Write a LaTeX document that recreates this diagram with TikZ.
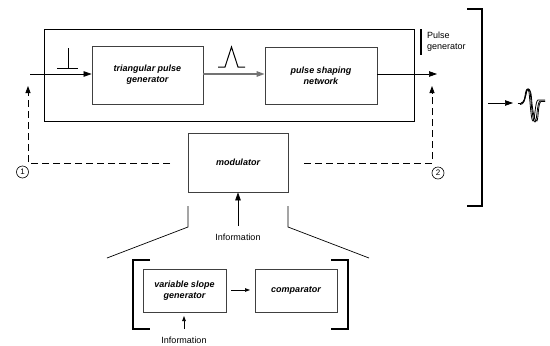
\documentclass[tikz,border=0pt]{standalone}
\usepackage{fontspec}
\setmainfont{Liberation Sans}
\usetikzlibrary{arrows.meta}
\begin{document}
\begin{tikzpicture}[x=1pt,y=-1pt,
  box/.style={draw=black!75, line width=0.8pt, inner sep=1pt, align=center,
    font=\fontsize{9}{11}\selectfont\bfseries\itshape},
  outerbox/.style={draw=black, line width=0.8pt},
  lbl/.style={inner sep=0pt, font=\fontsize{9}{11}\selectfont},
  arr/.style={line width=0.7pt, -{Triangle[length=8pt,width=5.5pt]}},
  sarr/.style={line width=0.7pt, -{Triangle[length=5pt,width=3.5pt]}},
  fb/.style={line width=0.8pt, dash pattern=on 7pt off 4pt, -{Triangle[length=7pt,width=5pt]}},
  fbl/.style={line width=0.8pt, dash pattern=on 7pt off 4pt},
  brk/.style={line width=1.3pt},
  num/.style={circle, draw, line width=0.6pt, inner sep=0pt, minimum size=12pt,
    font=\fontsize{8}{8}\selectfont},
  thin/.style={line width=0.7pt}]
\useasboundingbox (0,0) rectangle (550,346);

% outer pulse generator box
\node[outerbox, minimum width=370pt, minimum height=92pt, inner sep=0pt] (pg) at (229,75) {};
\node[box, minimum width=111pt, minimum height=58pt] (tpg) at (147.5,75) {triangular pulse\\generator};
\node[box, minimum width=112pt, minimum height=57pt] (psn) at (321,75.5) {pulse shaping\\network};

\coordinate (in) at (30,74);
\coordinate (out) at (437,74);
\draw[arr] (in) -- (tpg.west |- in);
\draw[arr, draw=black!55, line width=1.3pt] (tpg.east |- in) -- (psn.west |- in);
\draw[arr] (psn.east |- out) -- (out);

% step symbol and triangle symbol
\draw[line width=1pt] (57,68) -- (78,68) (68,68) -- (68,48);
\draw[line width=1pt] (218,67) -- (225,67) -- (231.5,47) -- (238,67) -- (245,67);

% pulse generator label
\draw[line width=1.2pt] (421,29) -- (421,55);
\node[lbl, anchor=west, align=left] (pglbl) at (427,42) {Pulse\\generator};

% big right bracket
\coordinate (b1) at (467,9);
\coordinate (b2) at (467,206);
\draw[brk] (b1) -| (482,206) -- (b2);

% output arrow and waveform
\coordinate (o1) at (488,103);
\coordinate (o2) at (513,103);
\draw[arr] (o1) -- (o2);
\begin{scope}[line width=0.8pt, line join=round]
\draw (518,103.5) .. controls (523,104) and (524,102) .. (525,96) .. controls (526,88) and (528,87) .. (529,92) .. controls (530,100) and (531,121) .. (533,121) .. controls (535,121) and (535,101) .. (538,100) -- (545,100);
\draw (520,104.5) .. controls (524,104.5) and (525,100) .. (526,93) .. controls (527,88) and (530,88) .. (530.5,95) .. controls (531.5,108) and (533,122) .. (535,122) .. controls (537,122) and (537,102) .. (540,101) -- (545,101);
\draw (521,103) .. controls (524,103) and (526,96) .. (527,90) .. controls (528,87) and (531,89) .. (531.5,98) .. controls (532.5,112) and (535,123) .. (537,121) .. controls (538.5,118) and (538,103) .. (541,101.5) -- (545,101.5);
\end{scope}

% modulator
\node[box, minimum width=100pt, minimum height=59pt] (mod) at (238,162.5) {modulator};

% dashed feedback lines
\coordinate (d1s) at (170,163);
\coordinate (d1c) at (28,163);
\coordinate (d1t) at (28,86);
\draw[fb] (d1s) -- (d1c) -- (d1t);
\node[num] (c1) at (22.5,172) {1};
\coordinate (d2s) at (304,163);
\coordinate (d2c) at (432,163);
\coordinate (d2t) at (432,86);
\draw[fb] (d2s) -- (d2c) -- (d2t);
\node[num] (c2) at (438,173) {2};

% information into modulator
\coordinate (i1) at (238,226);
\draw[arr] (i1) -- (mod.south);
\node[lbl] (info1) at (238,237.5) {Information};

% zoom lines
\draw[thin] (188,206) -- (188,227) -- (107,258);
\draw[thin] (288,206) -- (288,227) -- (369,258);

% lower detail
\draw[brk] (150,260) -| (133,329) -- (150,329);
\draw[brk] (331,260) -| (348,329) -- (331,329);
\node[box, minimum width=83pt, minimum height=43pt] (vsg) at (184.5,290.5) {variable slope\\generator};
\node[box, minimum width=82pt, minimum height=43pt] (cmp) at (296,290.5) {comparator};
\coordinate (a1) at (231,290);
\coordinate (a2) at (250,290);
\draw[sarr] (a1) -- (a2);
\coordinate (i2) at (184,329);
\coordinate (i2t) at (184,316);
\draw[sarr] (i2) -- (i2t);
\node[lbl] (info2) at (184,340) {Information};
\end{tikzpicture}
\end{document}
